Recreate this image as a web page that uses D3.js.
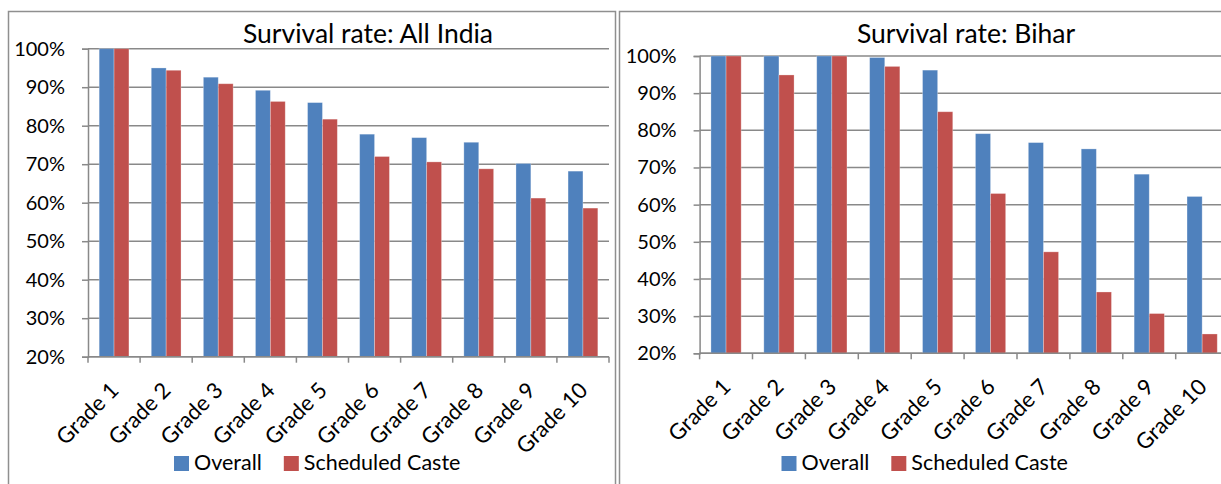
<!DOCTYPE html>
<html>
<head>
<meta charset="utf-8">
<script src="https://cdn.jsdelivr.net/npm/d3@7"></script>
<style>
  body { margin: 0; background: #fff; }
  svg { display: block; font-family: Lato, "Open Sans", sans-serif; }
</style>
</head>
<body>
<svg id="chart" width="1221" height="484"></svg>
<script>
// Categories and series
const grades = ["Grade 1", "Grade 2", "Grade 3", "Grade 4", "Grade 5",
                "Grade 6", "Grade 7", "Grade 8", "Grade 9", "Grade 10"];
const seriesNames = ["Overall", "Scheduled Caste"];
const seriesColors = ["#4F81BD", "#C0504D"];
const yTicks = [0.2, 0.3, 0.4, 0.5, 0.6, 0.7, 0.8, 0.9, 1.0];

// Survival rate, All India
const indiaOverall = [1.000, 0.950, 0.926, 0.892, 0.860, 0.778, 0.769, 0.757, 0.702, 0.682];
const indiaSC      = [1.000, 0.944, 0.909, 0.863, 0.817, 0.720, 0.706, 0.688, 0.612, 0.586];

// Survival rate, Bihar
const biharOverall = [1.000, 1.000, 1.000, 0.996, 0.962, 0.791, 0.767, 0.750, 0.682, 0.622];
const biharSC      = [1.000, 0.949, 1.000, 0.972, 0.850, 0.630, 0.473, 0.365, 0.307, 0.252];

const svg = d3.select("#chart");
const gridColor = "#898989";

const panels = [
  {
    title: "Survival rate: All India",
    values: [indiaOverall, indiaSC],
    frame: { x: 8.5, y: 11.5, w: 607, h: 490 },
    plot: { x0: 88, x1: 609, top: 48.7, bottom: 356.7 },
    titlePos: { x: 368, y: 43 },
    legendPos: { x: 174, y: 456 }
  },
  {
    title: "Survival rate: Bihar",
    values: [biharOverall, biharSC],
    frame: { x: 619.5, y: 11.5, w: 640, h: 490 },
    plot: { x0: 699.6, x1: 1228.6, top: 56, bottom: 353.3 },
    titlePos: { x: 966, y: 43 },
    legendPos: { x: 781.5, y: 456 }
  }
];

panels.forEach(p => {
  const g = svg.append("g");

  // chart border
  g.append("rect")
    .attr("x", p.frame.x).attr("y", p.frame.y)
    .attr("width", p.frame.w).attr("height", p.frame.h)
    .attr("fill", "#fff").attr("stroke", "#8f8f8f").attr("stroke-width", 1.5);

  const x = d3.scaleBand().domain(grades).range([p.plot.x0, p.plot.x1]).padding(0);
  const xs = d3.scaleBand().domain(seriesNames).range([0, x.bandwidth()])
    .paddingInner(0).paddingOuter(0.75);
  const y = d3.scaleLinear().domain([0.2, 1.0]).range([p.plot.bottom, p.plot.top]);

  // horizontal gridlines
  g.append("g").selectAll("line").data(yTicks).join("line")
    .attr("x1", p.plot.x0).attr("x2", p.plot.x1)
    .attr("y1", d => y(d)).attr("y2", d => y(d))
    .attr("stroke", gridColor).attr("stroke-width", 1.5);

  // bars
  seriesNames.forEach((s, si) => {
    g.append("g").selectAll("rect").data(p.values[si]).join("rect")
      .attr("x", (d, i) => x(grades[i]) + xs(s))
      .attr("width", xs.bandwidth())
      .attr("y", d => y(d))
      .attr("height", d => y(0.2) - y(d))
      .attr("fill", seriesColors[si])
      .attr("stroke", "rgba(255,255,255,0.35)")
      .attr("stroke-width", 0.8);
  });

  // y axis
  const yAxis = g.append("g")
    .attr("transform", `translate(${p.plot.x0},0)`)
    .call(d3.axisLeft(y).tickValues(yTicks).tickFormat(d3.format(".0%"))
      .tickSize(6).tickPadding(17));
  yAxis.select(".domain").attr("stroke", gridColor).attr("stroke-width", 1.5);
  yAxis.selectAll(".tick line").attr("stroke", gridColor).attr("stroke-width", 1.5);
  yAxis.selectAll(".tick text").attr("font-size", 20).attr("fill", "#000")
    .attr("font-family", "Lato, 'Open Sans', sans-serif");

  // x axis line and tick marks at category boundaries
  const boundaries = grades.map(d => x(d)).concat([p.plot.x1]);
  g.append("line")
    .attr("x1", p.plot.x0).attr("x2", p.plot.x1)
    .attr("y1", p.plot.bottom).attr("y2", p.plot.bottom)
    .attr("stroke", gridColor).attr("stroke-width", 1.5);
  g.append("g").selectAll("line").data(boundaries).join("line")
    .attr("x1", d => d).attr("x2", d => d)
    .attr("y1", p.plot.bottom).attr("y2", p.plot.bottom + 6)
    .attr("stroke", gridColor).attr("stroke-width", 1.5);

  // rotated category labels
  g.append("g").selectAll("text").data(grades).join("text")
    .attr("transform", d => {
      const cx = x(d) + x.bandwidth() / 2 + 6;
      const cy = p.plot.bottom + 35;
      return `translate(${cx},${cy}) rotate(-45)`;
    })
    .attr("text-anchor", "end")
    .attr("font-size", 22)
    .attr("fill", "#000")
    .text(d => d);

  // title
  g.append("text")
    .attr("x", p.titlePos.x).attr("y", p.titlePos.y)
    .attr("text-anchor", "middle")
    .attr("font-size", 26.5)
    .attr("fill", "#000")
    .text(p.title);

  // legend
  let lx = p.legendPos.x;
  const leg = g.append("g");
  seriesNames.forEach((s, si) => {
    leg.append("rect")
      .attr("x", lx).attr("y", p.legendPos.y)
      .attr("width", 15).attr("height", 15)
      .attr("fill", seriesColors[si]);
    const t = leg.append("text")
      .attr("x", lx + 20).attr("y", p.legendPos.y + 14)
      .attr("font-size", 21.5)
      .attr("fill", "#000")
      .text(s);
    lx = lx + 20 + t.node().getComputedTextLength() + 22;
  });
});
</script>
</body>
</html>
